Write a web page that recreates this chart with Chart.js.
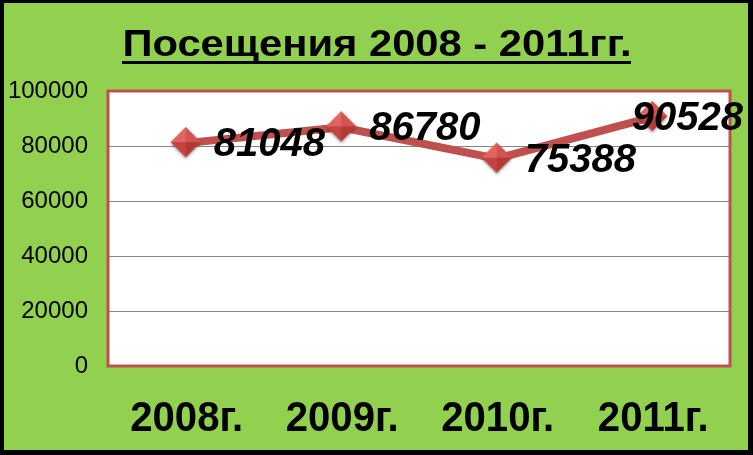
<!DOCTYPE html>
<html>
<head>
<meta charset="utf-8">
<script src="https://cdn.jsdelivr.net/npm/chart.js@4"></script>
<style>
  html, body { margin: 0; padding: 0; background: #000; }
  #wrap { width: 753px; height: 455px; }
</style>
</head>
<body>
<div id="wrap"><canvas id="visitsChart" width="753" height="455"></canvas></div>
<script>
var years = ['2008г.', '2009г.', '2010г.', '2011г.'];
var visits = [81048, 86780, 75388, 90528];
var yTicks = [0, 20000, 40000, 60000, 80000, 100000];
var chartTitle = 'Посещения 2008 - 2011гг.';

var sans = "'Liberation Sans', Arial, sans-serif";

// diamond marker with shaded facets
function makeDiamond() {
    var c = document.createElement('canvas');
    c.width = 36; c.height = 36;
    var g = c.getContext('2d');
    var cx = 18, cy = 17, r = 15;
    g.save();
    g.shadowColor = 'rgba(0,0,0,0.35)';
    g.shadowBlur = 3;
    g.shadowOffsetY = 2;
    g.beginPath();
    g.moveTo(cx, cy - r); g.lineTo(cx + r, cy); g.lineTo(cx, cy + r); g.lineTo(cx - r, cy);
    g.closePath();
    g.fillStyle = '#C0504D';
    g.fill();
    g.restore();
    var facets = [
        [[cx, cy - r], [cx - r, cy], '#E06561'],
        [[cx, cy - r], [cx + r, cy], '#D4524F'],
        [[cx - r, cy], [cx, cy + r], '#C24441'],
        [[cx + r, cy], [cx, cy + r], '#B23936']
    ];
    facets.forEach(function (f) {
        g.beginPath();
        g.moveTo(cx, cy);
        g.lineTo(f[0][0], f[0][1]);
        g.lineTo(f[1][0], f[1][1]);
        g.closePath();
        g.fillStyle = f[2];
        g.fill();
    });
    return c;
}

// narrow bold text: squeeze regular bold horizontally
function squeezed(ctx, txt, cx, y, k) {
    ctx.save();
    ctx.translate(cx, y);
    ctx.scale(k, 1);
    ctx.textAlign = 'center';
    ctx.fillText(txt, 0, 0);
    ctx.restore();
}

var frame = {
    id: 'frame',
    beforeDraw: function (chart) {
        var ctx = chart.ctx;
        ctx.save();
        ctx.fillStyle = '#000';
        ctx.fillRect(0, 0, chart.width, chart.height);
        ctx.fillStyle = '#92D050';
        ctx.fillRect(4, 3, chart.width - 9, chart.height - 8);
        var a = chart.chartArea;
        ctx.fillStyle = '#fff';
        ctx.fillRect(a.left, a.top, a.right - a.left, a.bottom - a.top);
        // title with underline
        ctx.fillStyle = '#000';
        ctx.font = 'bold 36px ' + sans;
        ctx.textBaseline = 'alphabetic';
        var w = ctx.measureText(chartTitle).width;
        var k = 509 / w;
        squeezed(ctx, chartTitle, 377, 56, k);
        ctx.fillRect(122, 61, 509, 3);
        ctx.restore();
    },
    afterDraw: function (chart) {
        var ctx = chart.ctx, a = chart.chartArea;
        ctx.save();
        ctx.strokeStyle = '#C0504D';
        ctx.lineWidth = 3;
        ctx.strokeRect(a.left, a.top, a.right - a.left, a.bottom - a.top);
        ctx.restore();
        // category labels
        var xs = chart.scales.x;
        ctx.save();
        ctx.fillStyle = '#000';
        ctx.font = 'bold 43px ' + sans;
        ctx.textBaseline = 'alphabetic';
        var k = 113 / ctx.measureText(years[0]).width;
        years.forEach(function (lab, i) {
            squeezed(ctx, lab, xs.getPixelForTick(i) + 1, 431, k);
        });
        ctx.restore();
        // value labels
        var meta = chart.getDatasetMeta(0);
        ctx.save();
        ctx.font = 'italic bold 40px ' + sans;
        ctx.fillStyle = '#000';
        ctx.textBaseline = 'middle';
        ctx.textAlign = 'left';
        meta.data.forEach(function (pt, i) {
            var txt = String(visits[i]);
            var w = ctx.measureText(txt).width;
            var x = Math.min(pt.x + 28, chart.width - 10 - w);
            ctx.fillText(txt, x, pt.y + 2);
        });
        ctx.restore();
    }
};

var ctx = document.getElementById('visitsChart').getContext('2d');
var visitsChart = new Chart(ctx, {
    type: 'line',
    data: {
        labels: years,
        datasets: [{
            label: 'Посещения',
            data: visits,
            borderColor: '#C0504D',
            borderWidth: 8,
            tension: 0,
            pointStyle: makeDiamond(),
            pointRadius: 15
        }]
    },
    options: {
        responsive: false,
        animation: false,
        events: [],
        layout: { padding: { left: 0, top: 91, right: 23, bottom: 0 } },
        scales: {
            x: {
                offset: true,
                grid: { display: false, drawTicks: false },
                border: { display: false },
                ticks: { display: false },
                afterFit: function (s) { s.height = 89; }
            },
            y: {
                min: 0,
                max: 100000,
                afterBuildTicks: function (s) { s.ticks = yTicks.map(function (v) { return { value: v }; }); },
                grid: { color: '#868686', lineWidth: 1, drawTicks: false },
                border: { display: false },
                ticks: {
                    color: '#000',
                    padding: 20,
                    font: { family: sans, size: 24 },
                    callback: function (v) { return String(v); }
                },
                afterFit: function (s) { s.width = 108; }
            }
        },
        plugins: {
            legend: { display: false },
            tooltip: { enabled: false }
        }
    },
    plugins: [frame]
});
</script>
</body>
</html>
